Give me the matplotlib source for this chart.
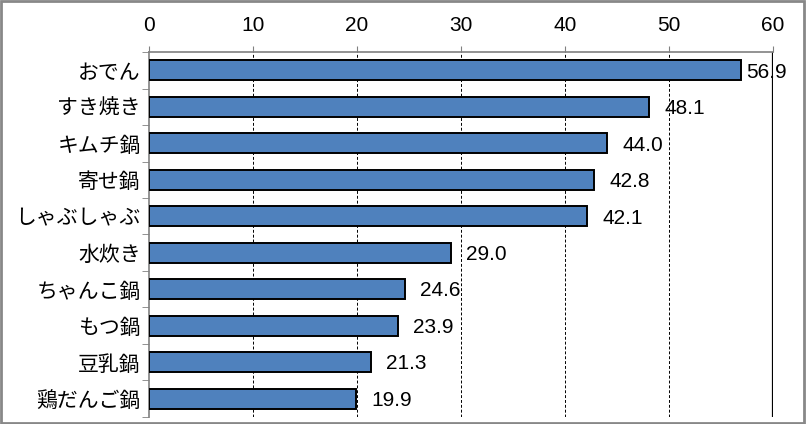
import matplotlib
matplotlib.use("Agg")
import matplotlib.pyplot as plt
from matplotlib.patches import Rectangle

plt.rcParams['font.family'] = ['Noto Sans CJK JP', 'DejaVu Sans']

# data (top to bottom)
categories = ["おでん", "すき焼き", "キムチ鍋", "寄せ鍋", "しゃぶしゃぶ",
              "水炊き", "ちゃんこ鍋", "もつ鍋", "豆乳鍋", "鶏だんご鍋"]
values = [56.9, 48.1, 44.0, 42.8, 42.1, 29.0, 24.6, 23.9, 21.3, 19.9]
x_ticks = [0, 10, 20, 30, 40, 50, 60]

fig = plt.figure(figsize=(8.06, 4.24), dpi=100)
ax = fig.add_axes([0.185, 0.017, 0.774, 0.86])

n = len(categories)
ypos = list(range(n))
ax.barh(ypos, values, height=0.55, color="#4F81BD", edgecolor="black", linewidth=1.4, zorder=3)

ax.set_xlim(0, 60)
ax.set_ylim(n - 0.5, -0.5)

# value labels
for y, v in zip(ypos, values):
    off = 1.5 if v + 4 < 60 else 0.5
    ax.text(v + off, y + 0.05, f"{v:.1f}", va="center", ha="left", fontsize=15,
            family=["Liberation Sans", "DejaVu Sans"], zorder=4)

# x axis on top
ax.xaxis.tick_top()
ax.set_xticks(x_ticks)
ax.set_xticklabels([str(t) for t in x_ticks], family=["Liberation Sans", "DejaVu Sans"])
ax.tick_params(axis="x", direction="out", length=4, color="#808080", pad=8, labelsize=15)

# y: labels at centers, tick marks at boundaries
ax.set_yticks(ypos)
ax.set_yticklabels(categories)
ax.tick_params(axis="y", length=0, pad=6, labelsize=15)
ax.set_yticks([i - 0.5 for i in range(n + 1)], minor=True)
ax.tick_params(axis="y", which="minor", direction="out", length=5, color="#808080")

for t in x_ticks[1:-1]:
    ax.axvline(t, color="black", linestyle=(0, (3, 2)), linewidth=0.7, zorder=1)
ax.axvline(60, color="black", linewidth=1.6, zorder=2)

ax.spines["right"].set_visible(False)
ax.spines["bottom"].set_visible(False)
ax.spines["left"].set_color("#808080")
ax.spines["top"].set_color("#808080")
ax.spines["left"].set_linewidth(1.2)
ax.spines["top"].set_linewidth(1.2)

# outer chart border
fig.patches.append(Rectangle((0.001, 0.002), 0.997, 0.995, transform=fig.transFigure,
                             fill=False, edgecolor="#888888", linewidth=2))

fig.savefig("out.png", dpi=100)
